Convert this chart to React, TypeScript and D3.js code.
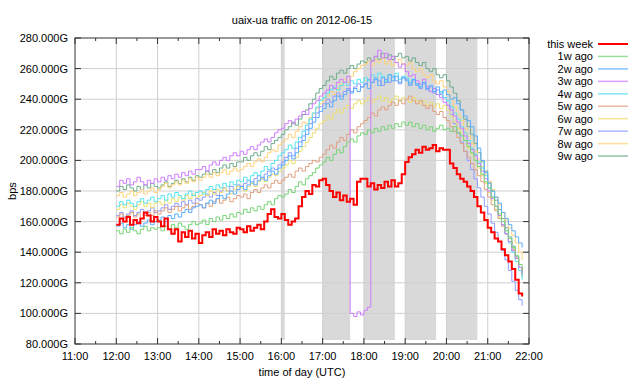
import React from 'react';
import * as d3 from 'd3';

const xTickLabels = ['11:00','12:00','13:00','14:00','15:00','16:00','17:00','18:00','19:00','20:00','21:00','22:00'];
const yTickValues = [80,100,120,140,160,180,200,220,240,260,280];
const seriesNames = ['this week','1w ago','2w ago','3w ago','4w ago','5w ago','6w ago','7w ago','8w ago','9w ago'];
const seriesColors = ['#ff0000','#77d477','#5aaeff','#d07cff','#55e3f0','#e2a080','#eedf70','#8f9cff','#ffd27a','#6fae8c'];
const startHour = 12;
const stepMinutes = 5;
const bands: [number, number][] = [[16, 16.083], [17, 17.667], [18, 18.75], [19, 19.75], [20, 20.75]];

const thisWeek = [
158,162,160,163,158,161,159,162,166,164,160,163,
160,157,162,155,152,155,147,153,150,154,149,152,
146,151,153,150,155,152,154,151,155,153,152,156,
155,153,157,154,156,158,155,160,165,168,163,162,
165,161,158,160,162,170,176,180,178,184,183,187,
188,184,180,176,179,174,177,173,175,171,186,188,
188,183,185,181,184,182,186,183,187,183,185,191,
199,202,204,207,205,209,207,208,210,206,208,207,
207,198,195,191,188,186,183,180,176,170,166,161,
156,153,149,147,142,138,134,129,122,113,111];

const w1 = [
154,152,155,153,156,154,152,155,157,154,156,155,
156,154,157,155,158,156,159,157,155,158,160,158,
159,161,158,162,160,163,161,164,162,165,163,166,
165,168,166,169,167,170,168,171,173,171,175,177,
176,178,181,179,183,186,184,188,190,192,195,197,
199,202,200,204,207,205,209,212,214,212,216,218,
217,220,218,221,219,222,220,223,221,224,222,225,
223,225,222,224,221,223,220,222,219,221,223,220,
221,219,222,218,216,213,209,205,200,196,191,186,
182,176,170,165,160,154,149,143,138,132,128];

const w2 = [
157,159,156,158,155,158,160,157,159,161,158,160,
161,163,160,164,162,165,163,166,168,166,169,170,
171,169,172,174,172,175,177,175,178,180,178,181,
183,181,184,186,184,187,189,187,190,193,191,195,
197,200,203,201,205,209,213,217,221,225,228,232,
234,237,235,239,242,240,243,246,244,247,245,248,
250,247,251,253,249,254,251,256,252,255,251,254,
252,249,253,250,248,251,247,249,245,248,244,246,
243,240,241,237,233,229,226,222,216,208,200,192,
185,180,176,172,166,162,158,154,150,146,143];

const w3 = [
183,187,185,188,184,186,189,186,184,187,185,188,
186,189,187,190,188,191,189,192,190,193,191,194,
194,196,193,197,199,197,200,202,200,203,205,203,
206,204,207,209,207,210,212,214,212,215,218,220,
221,224,226,224,227,229,232,230,234,237,239,242,
244,246,249,247,251,253,251,255,100,98,101,99,
102,104,265,268,272,267,270,266,268,264,261,263,
258,255,256,252,250,253,248,245,247,243,241,238,
236,233,229,225,221,216,211,207,203,198,193,188,
180,175,170,164,158,152,147,141,136,130,126];

const w4 = [
170,173,171,174,172,170,173,175,172,174,176,173,
175,177,174,178,176,179,177,175,178,180,177,179,
180,178,181,183,181,184,182,185,183,186,184,187,
186,189,187,190,192,190,193,196,194,198,200,203,
205,207,210,208,212,215,219,223,227,231,235,239,
241,244,246,248,246,249,251,249,252,250,253,251,
254,252,256,253,257,255,252,256,254,257,253,255,
254,251,253,250,248,251,247,245,247,243,245,241,
239,235,231,227,222,218,213,208,204,199,195,190,
182,176,170,164,158,152,146,140,134,128,122];

const w5 = [
163,165,162,164,166,163,165,162,164,166,164,167,
165,167,169,166,168,170,167,169,171,168,170,172,
171,169,172,170,173,175,172,174,176,173,175,177,
176,178,175,179,181,179,182,184,182,185,187,185,
187,189,191,189,193,195,193,196,198,200,199,202,
204,207,210,208,212,215,213,217,220,218,222,224,
226,228,231,229,233,235,233,236,238,236,239,237,
240,242,239,237,239,236,234,236,232,230,232,228,
226,222,219,215,211,206,202,198,194,190,186,181,
176,171,167,162,157,152,147,142,136,130,125];

const w6 = [
168,171,169,172,170,168,171,173,170,172,169,172,
173,171,174,172,175,173,176,174,177,175,178,176,
177,179,177,180,178,181,179,182,180,178,181,183,
182,180,183,185,183,186,188,186,189,191,190,193,
195,197,200,198,202,206,209,212,215,218,221,224,
226,229,227,231,233,231,234,236,234,237,239,237,
239,241,238,240,242,239,241,238,240,242,239,241,
240,238,241,239,237,239,236,238,235,237,234,236,
233,229,225,221,218,213,208,204,200,195,190,185,
179,174,168,163,158,152,147,141,136,130,125];

const w7 = [
164,166,163,165,167,164,166,168,165,167,169,166,
167,169,171,168,170,172,170,173,171,174,172,175,
174,176,178,176,179,177,180,182,180,183,181,184,
183,185,187,185,188,190,188,191,193,195,194,197,
199,202,205,203,208,212,216,220,224,228,231,235,
237,240,238,242,244,242,245,247,245,248,250,248,
250,253,251,254,252,249,253,251,255,252,250,254,
253,250,252,249,247,250,246,248,244,246,243,241,
236,230,224,218,212,206,200,194,188,182,176,170,
165,159,153,147,141,135,128,121,115,109,105];

const w8 = [
177,179,176,178,180,177,179,181,178,180,182,179,
181,183,185,182,184,186,184,187,185,188,186,189,
187,189,191,189,192,190,192,194,191,193,195,193,
194,196,198,196,199,201,199,202,205,207,206,210,
212,214,217,215,219,222,225,224,228,231,234,237,
239,242,245,243,247,250,253,251,255,258,260,262,
263,265,262,266,264,267,263,265,262,264,266,263,
262,264,260,258,260,256,254,256,252,250,252,248,
245,240,235,230,226,221,216,211,206,201,196,191,
186,181,176,171,166,161,156,151,146,140,135];

const w9 = [
180,183,181,184,182,180,183,181,184,182,185,183,
182,184,186,183,185,187,185,188,186,189,187,190,
189,191,193,191,194,192,195,197,195,198,196,199,
199,202,200,203,205,203,206,209,207,211,213,215,
217,220,222,225,223,227,230,233,237,240,244,247,
249,252,255,253,257,259,257,260,262,260,263,265,
264,267,265,268,266,270,267,269,266,268,270,267,
268,265,267,264,262,264,260,258,260,256,254,256,
252,248,244,239,233,227,222,217,211,205,199,193,
186,180,174,168,162,156,150,144,137,130,124];

const allSeries = [thisWeek, w1, w2, w3, w4, w5, w6, w7, w8, w9];

const W = 640, H = 384;
const left = 75, right = 529, top = 38, bottom = 344;

export default function App() {
  const x = d3.scaleLinear().domain([11, 22]).range([left, right]);
  const y = d3.scaleLinear().domain([80, 280]).range([bottom, top]);
  const line = d3.line<number>()
    .x((_, i) => x(startHour + (i * stepMinutes) / 60))
    .y(d => y(d))
    .curve(d3.curveStepAfter);
  const majorX = d3.range(11, 23);
  const minorX = d3.range(11.5, 22, 1);
  const font = 'Liberation Sans, Arial, Helvetica, sans-serif';
  const order = [9, 8, 7, 6, 5, 4, 3, 2, 1, 0];
  return (
    <svg width={W} height={H} style={{ position: 'absolute', left: 0, top: 0, background: '#fff' }} fontFamily={font} fontSize={11}>
      <rect x={0} y={0} width={W} height={H} fill="#fff" />
      {bands.map(([a, b], i) => (
        <rect key={'b' + i} x={x(a)} y={top} width={x(b) - x(a)} height={bottom - top - 4} fill="#d9d9d9" />
      ))}
      {majorX.slice(1, -1).map(h => (
        <line key={'gx' + h} x1={x(h)} x2={x(h)} y1={top} y2={bottom} stroke="#d0d0d0" strokeWidth={1} />
      ))}
      {yTickValues.slice(1, -1).map(v => (
        <line key={'gy' + v} x1={left} x2={right} y1={y(v)} y2={y(v)} stroke="#d0d0d0" strokeWidth={1} />
      ))}
      {order.map(k => (
        <path key={'s' + k} d={line(allSeries[k]) || ''} fill="none" stroke={seriesColors[k]} strokeWidth={k === 0 ? 2 : 1} />
      ))}
      <rect x={left} y={top} width={right - left} height={bottom - top} fill="none" stroke="#333" strokeWidth={1} />
      {majorX.map(h => (
        <g key={'tx' + h}>
          <line x1={x(h)} x2={x(h)} y1={bottom} y2={bottom - 6} stroke="#333" />
          <line x1={x(h)} x2={x(h)} y1={top} y2={top + 6} stroke="#333" />
        </g>
      ))}
      {minorX.map(h => (
        <g key={'mx' + h}>
          <line x1={x(h)} x2={x(h)} y1={bottom} y2={bottom - 3} stroke="#333" />
          <line x1={x(h)} x2={x(h)} y1={top} y2={top + 3} stroke="#333" />
        </g>
      ))}
      {yTickValues.map(v => (
        <g key={'ty' + v}>
          <line x1={left} x2={left + 6} y1={y(v)} y2={y(v)} stroke="#333" />
          <line x1={right} x2={right - 6} y1={y(v)} y2={y(v)} stroke="#333" />
          <text x={left - 7} y={y(v) + 4} textAnchor="end" fill="#000">{v.toFixed(3) + 'G'}</text>
        </g>
      ))}
      {majorX.map((h, i) => (
        <text key={'lx' + h} x={x(h)} y={bottom + 16} textAnchor="middle" fill="#000">{xTickLabels[i]}</text>
      ))}
      <text x={(left + right) / 2} y={24} textAnchor="middle" fill="#000">uaix-ua traffic on 2012-06-15</text>
      <text x={(left + right) / 2} y={376} textAnchor="middle" fill="#000">time of day (UTC)</text>
      <text transform={`translate(16, ${(top + bottom) / 2}) rotate(-90)`} textAnchor="middle" fill="#000">bps</text>
      {seriesNames.map((n, i) => (
        <g key={'lg' + i}>
          <text x={593} y={48 + i * 12.45} textAnchor="end" fill="#000">{n}</text>
          <line x1={598} x2={628} y1={44 + i * 12.45} y2={44 + i * 12.45} stroke={seriesColors[i]} strokeWidth={i === 0 ? 2 : 1.5} strokeOpacity={i === 0 ? 1 : 0.75} />
        </g>
      ))}
    </svg>
  );
}
